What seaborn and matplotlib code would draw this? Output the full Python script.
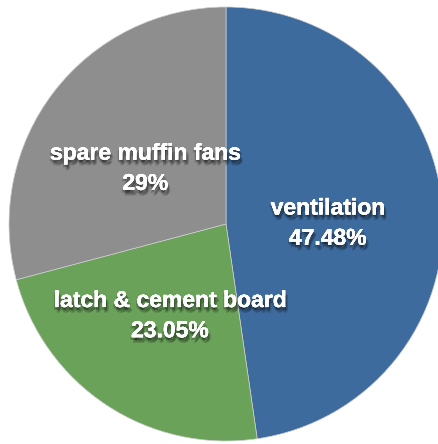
import matplotlib
matplotlib.use('Agg')
import matplotlib.pyplot as plt
import matplotlib.patheffects as pe
import seaborn as sns

# data
categories = ['ventilation', 'latch & cement board', 'spare muffin fans']
label_pcts = ['47.48%', '23.05%', '29%']
values = [47.48, 23.05, 29]
colors = ['#3D6B9E', '#6AA25A', '#8E8E8E']

sns.set_style('white')
plt.rcParams['font.family'] = ['Liberation Sans', 'DejaVu Sans']

fig = plt.figure(figsize=(4.39, 4.44), dpi=100)
ax = fig.add_axes([9 / 439, 3 / 444, 434 / 439, 434 / 444])

labels = [f'{c}\n{p}' for c, p in zip(categories, label_pcts)]
wedges, texts = ax.pie(values, labels=labels, colors=sns.color_palette(colors),
                       startangle=90, counterclock=False, labeldistance=0.47,
                       wedgeprops=dict(linewidth=0.5, edgecolor='#cfcfcf'))

# soft drop shadow: a few offset copies with low alpha
shadow = []
for dx, dy in [(0, -1), (1, -2), (2, -3), (-1, -2), (1, -4)]:
    shadow.append(pe.withSimplePatchShadow(offset=(dx, dy), shadow_rgbFace='black', alpha=0.18))
shadow.append(pe.Normal())

for t in texts:
    x, y = t.get_position()
    t.set_position((x, y - 0.03))   # nudge labels down a little
    t.set_ha('center')
    t.set_va('center')
    t.set_color('white')
    t.set_fontsize(16.5)
    t.set_fontweight('bold')
    t.set_linespacing(1.4)
    t.set_path_effects(shadow)

ax.set_xlim(-1, 1)
ax.set_ylim(-1, 1)
ax.set_aspect('equal')
ax.axis('off')

fig.savefig('out.png', dpi=100)
